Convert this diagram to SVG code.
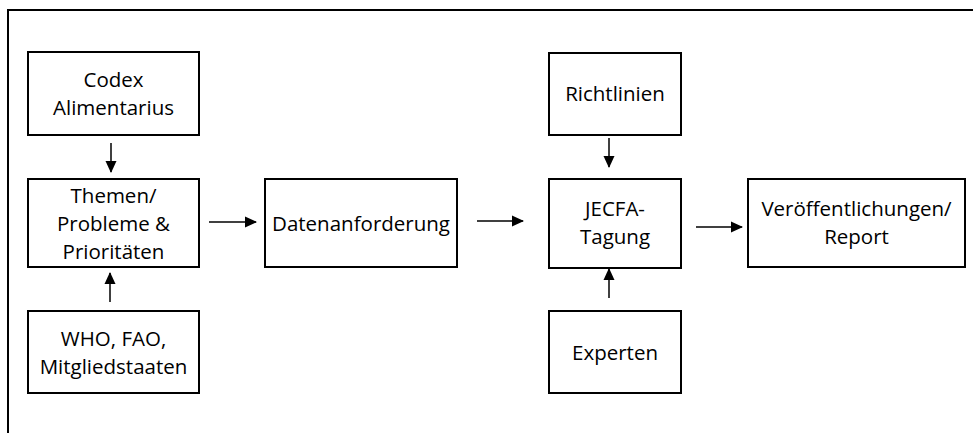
<svg xmlns="http://www.w3.org/2000/svg" width="973" height="433" viewBox="0 0 973 433">
<style>
.box{fill:#fff;stroke:#000;stroke-width:2}
.t{font-family:"Open Sans","Noto Sans",sans-serif;font-size:20.5px;fill:#000;text-anchor:middle}
.c{stroke:#000;stroke-width:1.5;fill:none;marker-end:url(#ah)}
</style>
<defs>
<marker id="ah" markerWidth="12" markerHeight="12" refX="11" refY="6" orient="auto" markerUnits="userSpaceOnUse">
<path d="M0,0.5 L12,6 L0,11.5 Z" fill="#000"/>
</marker>
</defs>
<rect width="973" height="433" fill="#fff"/>
<path d="M8,440 L8,10 L980,10" fill="none" stroke="#000" stroke-width="2"/>
<g id="codex"><rect class="box" x="28" y="52" width="171" height="83"/><text class="t" x="113.5" y="87">Codex</text><text class="t" x="113.5" y="115">Alimentarius</text></g>
<g id="themen"><rect class="box" x="28" y="179" width="171" height="88"/><text class="t" x="113.5" y="203">Themen/</text><text class="t" x="113.5" y="231">Probleme &amp;</text><text class="t" x="113.5" y="259">Prioritäten</text></g>
<g id="who"><rect class="box" x="28" y="311" width="171" height="82"/><text class="t" x="113.5" y="346">WHO, FAO,</text><text class="t" x="113.5" y="374">Mitgliedstaaten</text></g>
<g id="daten"><rect class="box" x="265" y="179" width="192" height="88"/><text class="t" x="361" y="231">Datenanforderung</text></g>
<g id="richtlinien"><rect class="box" x="549" y="53" width="132" height="82"/><text class="t" x="615" y="101">Richtlinien</text></g>
<g id="jecfa"><rect class="box" x="549" y="179" width="132" height="89"/><text class="t" x="615" y="216">JECFA-</text><text class="t" x="615" y="244">Tagung</text></g>
<g id="experten"><rect class="box" x="549" y="311" width="132" height="82"/><text class="t" x="615" y="360">Experten</text></g>
<g id="report"><rect class="box" x="748" y="179" width="217" height="88"/><text class="t" x="856.5" y="216">Veröffentlichungen/</text><text class="t" x="856.5" y="244">Report</text></g>
<g id="connectors">
<line class="c" x1="111" y1="143" x2="111" y2="172"/>
<line class="c" x1="110" y1="302" x2="110" y2="273"/>
<line class="c" x1="209" y1="222" x2="256" y2="222"/>
<line class="c" x1="477" y1="221" x2="523" y2="221"/>
<line class="c" x1="609" y1="138" x2="609" y2="167"/>
<line class="c" x1="609" y1="298" x2="609" y2="269"/>
<line class="c" x1="696" y1="227" x2="742" y2="227"/>
</g>
</svg>
